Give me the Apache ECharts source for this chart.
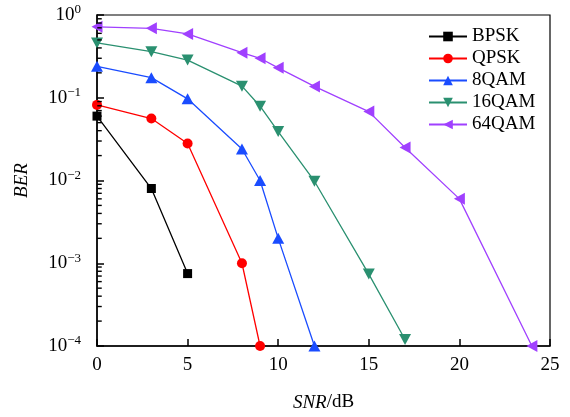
<!DOCTYPE html>
<html>
<head>
<meta charset="utf-8">
<script src="https://cdn.jsdelivr.net/npm/echarts@6/dist/echarts.min.js"></script>
<style>html,body{margin:0;padding:0;background:#fff;}#c{width:570px;height:417px;}</style>
</head>
<body>
<div id="c"></div>
<script>
// ---- data ----
const seriesNames = ['BPSK', 'QPSK', '8QAM', '16QAM', '64QAM'];
const snrBPSK = [0, 3, 5];
const berBPSK = [0.06, 0.008, 0.00075];
const snrQPSK = [0, 3, 5, 8, 9];
const berQPSK = [0.082, 0.056, 0.028, 0.001, 0.0001];
const snr8QAM = [0, 3, 5, 8, 9, 10, 12];
const ber8QAM = [0.24, 0.175, 0.097, 0.024, 0.01, 0.002, 0.0001];
const snr16QAM = [0, 3, 5, 8, 9, 10, 12, 15, 17];
const ber16QAM = [0.46, 0.36, 0.285, 0.138, 0.079, 0.039, 0.0098, 0.00074, 0.00012];
const snr64QAM = [0, 3, 5, 8, 9, 10, 12, 15, 17, 20, 24];
const ber64QAM = [0.72, 0.69, 0.59, 0.35, 0.3, 0.23, 0.137, 0.068, 0.025, 0.006, 0.0001];
const xTicks = [0, 5, 10, 15, 20, 25];
const yDecades = [-4, -3, -2, -1, 0];
const minorMultipliers = [2, 3, 4, 5, 6, 7, 8, 9];

// ---- styles ----
const FONT = 'Liberation Serif';
const styles = {
  'BPSK':  {color: '#000000', symbol: 'rect', size: 9, rot: 0},
  'QPSK':  {color: '#ff0000', symbol: 'circle', size: 10, rot: 0},
  '8QAM':  {color: '#1a4cff', symbol: 'triangle', size: [12, 11], rot: 0},
  '16QAM': {color: '#2a9070', symbol: 'triangle', size: [12, 11], rot: 180},
  '64QAM': {color: '#a040ff', symbol: 'triangle', size: [12, 11], rot: 90}
};
const xs = [snrBPSK, snrQPSK, snr8QAM, snr16QAM, snr64QAM];
const ys = [berBPSK, berQPSK, ber8QAM, ber16QAM, ber64QAM];

const series = seriesNames.map((n, i) => {
  const s = styles[n];
  return {
    name: n, type: 'line',
    data: xs[i].map((x, j) => [x, ys[i][j]]),
    symbol: s.symbol, symbolSize: s.size, symbolRotate: s.rot,
    showSymbol: true,
    lineStyle: {color: s.color, width: 1.3},
    itemStyle: {color: s.color},
    z: 3
  };
});

// minor ticks for log axis (2..9 within each decade), drawn as tiny rect symbols
const minorVals = [];
for (let d = yDecades[0]; d < yDecades[yDecades.length - 1]; d++) {
  for (const k of minorMultipliers) minorVals.push([xTicks[0], k * Math.pow(10, d)]);
}
series.push({
  type: 'scatter',
  name: 'minor',
  silent: true,
  clip: false,
  data: minorVals,
  symbol: 'rect',
  symbolSize: [4.5, 1.4],
  symbolOffset: [2.5, 0],
  itemStyle: {color: '#000', opacity: 1},
  z: 10
});

const supMap = {'0': '0', '-1': '−1', '-2': '−2', '-3': '−3', '-4': '−4'};

const option = {
  animation: false,
  backgroundColor: '#fff',
  textStyle: {fontFamily: FONT, color: '#000'},
  grid: {left: 97, right: 20, top: 15, bottom: 69, show: true, borderColor: '#000', borderWidth: 1.2},
  legend: {
    data: seriesNames,
    orient: 'vertical',
    left: 428, top: 27,
    padding: 0,
    itemWidth: 38, itemHeight: 12, itemGap: 3,
    textStyle: {fontFamily: FONT, fontSize: 19, color: '#000'}
  },
  xAxis: {
    type: 'value', min: 0, max: 25, interval: 5,
    name: '{i|SNR}{n|/dB}', nameLocation: 'middle', nameGap: 47,
    nameTextStyle: {rich: {
      i: {fontFamily: FONT, fontStyle: 'italic', fontSize: 19, color: '#000'},
      n: {fontFamily: FONT, fontSize: 19, color: '#000'}
    }},
    axisLine: {onZero: false, lineStyle: {color: '#000', width: 1.5}},
    axisTick: {inside: true, length: 7, lineStyle: {color: '#000', width: 1.5}},
    axisLabel: {fontFamily: FONT, fontSize: 19, color: '#000', margin: 10},
    splitLine: {show: false}
  },
  yAxis: {
    type: 'log', logBase: 10, min: 1e-4, max: 1,
    name: 'BER', nameLocation: 'middle', nameGap: 66, nameRotate: 90,
    nameTextStyle: {fontFamily: FONT, fontStyle: 'italic', fontSize: 19, color: '#000'},
    axisLine: {lineStyle: {color: '#000', width: 1.5}},
    axisTick: {inside: true, length: 7, lineStyle: {color: '#000', width: 1.5}},
    axisLabel: {
      margin: 16,
      fontFamily: FONT,
      fontSize: 19,
      formatter: function (v) {
        const e = Math.round(Math.log10(v));
        return '{b|10}{s|' + supMap[String(e)] + '}';
      },
      rich: {
        b: {fontFamily: FONT, fontSize: 19, color: '#000'},
        s: {fontFamily: FONT, fontSize: 13, color: '#000', padding: [0, 0, 10, 0]}
      }
    },
    splitLine: {show: false}
  },
  series: series
};

const chart = echarts.init(document.getElementById('c'), null, {renderer: 'canvas'});
chart.setOption(option);
</script>
</body>
</html>
